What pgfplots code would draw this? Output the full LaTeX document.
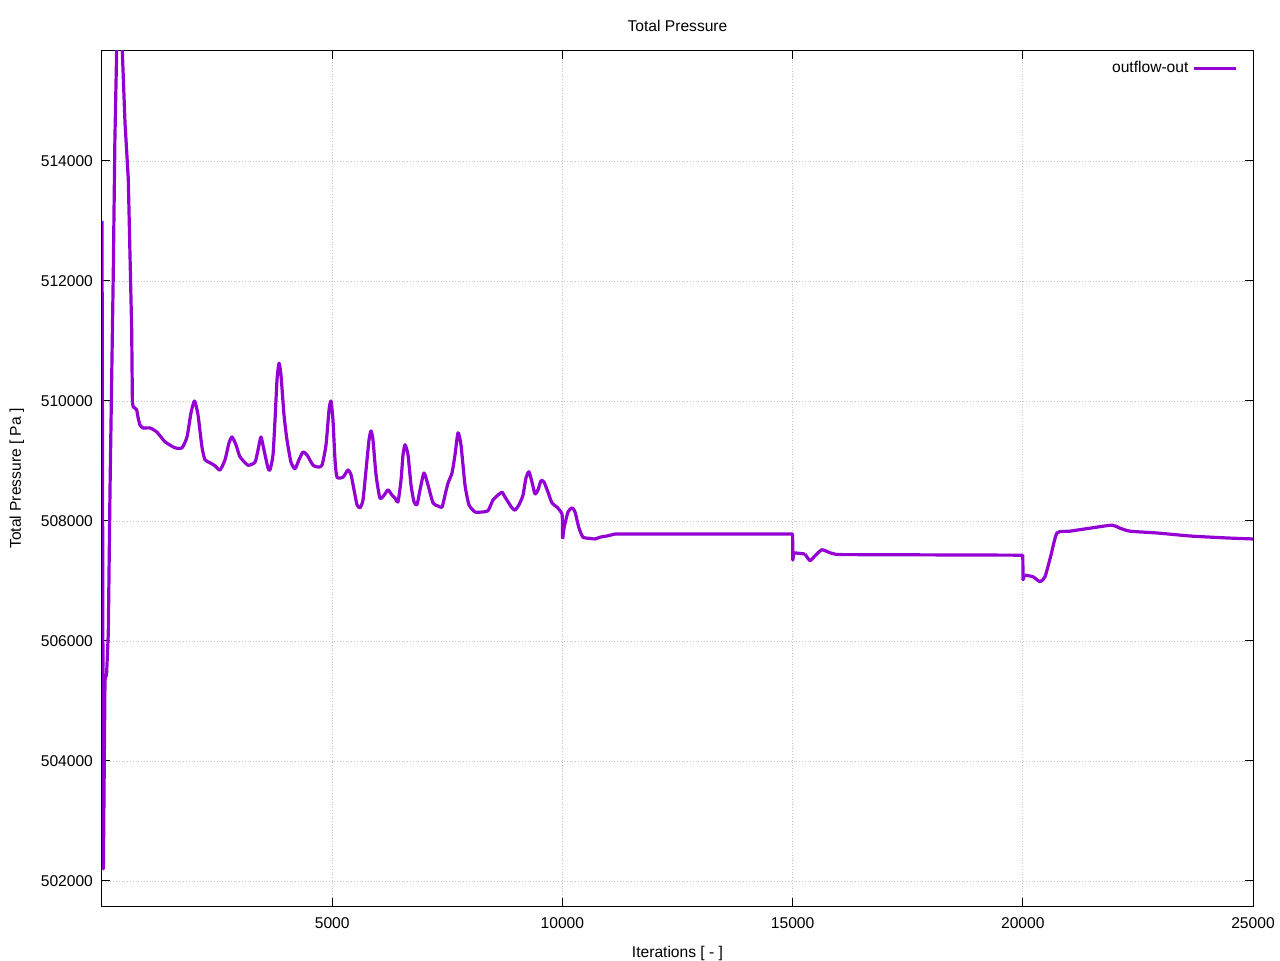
\documentclass[border=0pt]{standalone}
\usepackage{pgfplots}
\pgfplotsset{compat=1.18}
\usepackage{fontspec}
\setmainfont{Liberation Sans}
\definecolor{gpviolet}{RGB}{148,0,211}
\pgfplotstableread{
x y
0 513000
30 502200
65 505350
100 505450
137 506130
174 508520
245 512130
280 514350
320 515900
360 516600
420 516500
441 515833
500 514630
571 513700
645 511180
660 509980
}\segA
\pgfplotstableread{
x y
660 509980
680 509900
717 509880
754 509850
782 509730
825 509600
890 509550
1043 509550
1195 509480
1368 509320
1586 509220
1738 509220
1846 509400
1933 509800
2009 510000
2085 509770
2172 509230
2237 509020
2346 508970
2455 508920
2563 508850
2672 509020
2758 509300
2824 509400
2910 509270
2997 509070
3171 508930
3323 508980
3388 509180
3453 509400
3519 509180
3606 508880
3649 508850
3714 509100
3758 509680
3801 510350
3845 510630
3888 510430
3953 509770
4018 509350
4105 508980
4192 508870
4279 509020
4366 509150
4453 509100
4583 508930
4692 508900
4779 508930
4866 509270
4931 509850
4974 510000
5017 509680
5061 509020
5104 508730
5235 508730
5343 508850
5409 508770
5474 508520
5539 508270
5604 508220
5669 508350
5735 508850
5800 509350
5843 509500
5886 509350
5952 508770
6038 508380
6147 508450
6212 508520
6299 508430
6364 508380
6430 508320
6495 508680
6538 509100
6582 509270
6647 509100
6712 508600
6777 508320
6842 508270
6908 508520
6994 508800
7081 508600
7190 508300
7298 508250
7385 508230
7450 508430
7515 508630
7602 508800
7667 509100
7732 509470
7797 509270
7884 508600
7971 508270
8102 508150
8254 508150
8384 508170
8493 508350
8601 508430
8688 508480
8753 508400
8818 508320
8905 508220
8970 508180
9057 508270
9144 508430
9209 508720
9274 508820
9339 508650
9405 508450
9470 508520
9535 508670
9600 508650
9687 508480
9774 508300
9883 508230
9970 508150
9998 508100
}\segB
\pgfplotstableread{
x y
9998 508100
10005 507700
}\segC
\pgfplotstableread{
x y
10005 507700
10040 507900
10122 508150
10209 508220
10274 508150
10361 507880
10448 507730
10600 507710
10708 507700
10817 507730
10969 507750
11143 507783
}\segD
\pgfplotstableread{
x y
11143 507783
15000 507783
15005 507350
15030 507470
15269 507450
}\segE
\pgfplotstableread{
x y
15269 507450
15378 507340
15500 507430
15638 507520
15812 507470
15964 507440
}\segF
\pgfplotstableread{
x y
15964 507440
20000 507430
20005 507020
20040 507100
}\segG
\pgfplotstableread{
x y
20040 507100
20221 507070
20374 506990
20482 507070
20612 507430
20743 507800
21025 507830
21459 507880
21937 507930
22111 507880
22328 507830
22915 507800
23631 507750
24348 507720
25000 507700
}\segH
\begin{document}
\begin{tikzpicture}
\useasboundingbox (0,0) rectangle (640pt,480pt);
\begin{axis}[
  at={(51pt,27pt)}, anchor=south west,
  scale only axis, width=575.5pt, height=427.5pt,
  xmin=0, xmax=25000, ymin=501583, ymax=515833,
  xtick={5000,10000,15000,20000,25000},
  ytick={502000,504000,...,514000},
  scaled ticks=false,
  /pgf/number format/fixed,
  /pgf/number format/precision=0,
  /pgf/number format/assume math mode=true,
  /pgf/number format/1000 sep={},
  tick align=inside, major tick length=4pt,
  tick style={black, line width=0.5pt},
  axis line style={line width=0.5pt},
  grid=major, grid style={densely dotted, gray!45, line width=0.4pt},
  font=\fontsize{7.8}{9.4}\selectfont,
  xticklabel style={yshift=-2.5pt},
  yticklabel style={xshift=-1pt},
  title={Total Pressure},
  title style={at={(0.5,1)}, anchor=south, yshift=0pt},
  xlabel={Iterations [ - ]},
  ylabel={Total Pressure [ Pa ]},
  xlabel style={yshift=-1.5pt},
  ylabel style={yshift=1.5pt},
  legend plot pos=right,
  legend style={at={(1,1)}, anchor=north east, draw=none, fill=none,
    xshift=-4.5pt, yshift=-1pt, font=\fontsize{7.8}{9.4}\selectfont},
  legend image code/.code={\draw[#1] (0pt,0pt) -- (21pt,0pt);},
]
\addplot[gpviolet, no markers, line width=1.6pt, line join=round] table {\segA};
\addlegendentry{outflow-out}
\addplot[gpviolet, no markers, line width=1.6pt, line join=round, forget plot, smooth, tension=0.35] table {\segB};
\addplot[gpviolet, no markers, line width=1.6pt, line join=round, forget plot] table {\segC};
\addplot[gpviolet, no markers, line width=1.6pt, line join=round, forget plot, smooth, tension=0.35] table {\segD};
\addplot[gpviolet, no markers, line width=1.6pt, line join=round, forget plot] table {\segE};
\addplot[gpviolet, no markers, line width=1.6pt, line join=round, forget plot, smooth, tension=0.35] table {\segF};
\addplot[gpviolet, no markers, line width=1.6pt, line join=round, forget plot] table {\segG};
\addplot[gpviolet, no markers, line width=1.6pt, line join=round, forget plot, smooth, tension=0.35] table {\segH};
\end{axis}
\end{tikzpicture}
\end{document}
